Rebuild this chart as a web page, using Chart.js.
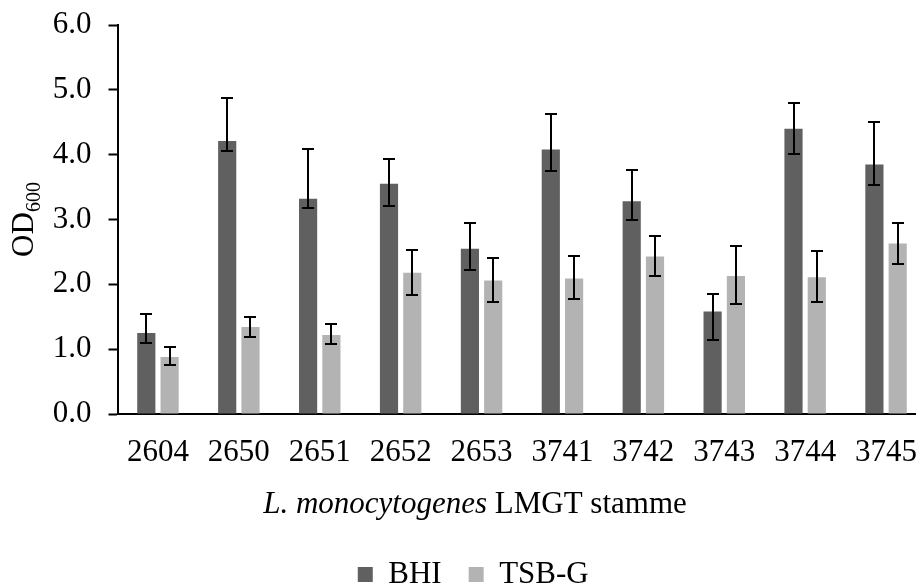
<!DOCTYPE html>
<html>
<head>
<meta charset="utf-8">
<script src="https://cdn.jsdelivr.net/npm/chart.js@4"></script>
<style>
  html, body { margin: 0; padding: 0; background: #fff; overflow: hidden; }
  #wrap { position: relative; width: 964px; height: 600px; }
</style>
</head>
<body>
<div id="wrap"><canvas id="odChart"></canvas></div>
<script>
// OD600 per strain, two growth media (mean with upper/lower error)
const strains = ['2604', '2650', '2651', '2652', '2653', '3741', '3742', '3743', '3744', '3745'];
const bhi = [1.25, 4.21, 3.32, 3.55, 2.55, 4.08, 3.28, 1.58, 4.40, 3.85];
const bhiPlus = [0.30, 0.66, 0.77, 0.38, 0.39, 0.54, 0.48, 0.27, 0.39, 0.66];
const bhiMinus = [0.15, 0.15, 0.15, 0.34, 0.33, 0.33, 0.29, 0.44, 0.39, 0.32];
const tsbg = [0.88, 1.34, 1.22, 2.18, 2.06, 2.09, 2.43, 2.13, 2.11, 2.63];
const tsbgPlus = [0.15, 0.16, 0.17, 0.35, 0.35, 0.34, 0.31, 0.46, 0.41, 0.32];
const tsbgMinus = [0.13, 0.15, 0.14, 0.34, 0.33, 0.31, 0.30, 0.43, 0.39, 0.31];
const yTicks = [0, 1, 2, 3, 4, 5, 6];

const serif = "'Liberation Serif', 'Times New Roman', serif";

// draws the error bars on top of the bars
const errorBars = {
    id: 'errorBars',
    afterDatasetsDraw(chart) {
        const { ctx } = chart;
        const y = chart.scales.y;
        ctx.save();
        ctx.strokeStyle = '#000';
        ctx.lineWidth = 2;
        chart.data.datasets.forEach((ds, di) => {
            const meta = chart.getDatasetMeta(di);
            meta.data.forEach((bar, i) => {
                const top = Math.round(y.getPixelForValue(ds.data[i] + ds.errPlus[i]));
                const bot = Math.round(y.getPixelForValue(ds.data[i] - ds.errMinus[i]));
                const x = Math.round(bar.x);
                ctx.beginPath();
                ctx.moveTo(x, top); ctx.lineTo(x, bot);
                ctx.moveTo(x - 6, top); ctx.lineTo(x + 6, top);
                ctx.moveTo(x - 6, bot); ctx.lineTo(x + 6, bot);
                ctx.stroke();
            });
        });
        ctx.restore();
    }
};

// axis titles with italic species name and subscript
const axisTitles = {
    id: 'axisTitles',
    afterDraw(chart) {
        const { ctx, chartArea } = chart;
        ctx.save();
        ctx.fillStyle = '#000';
        ctx.textBaseline = 'alphabetic';

        // x title
        const part1 = 'L. monocytogenes ';
        const part2 = 'LMGT stamme';
        ctx.font = 'italic 31px ' + serif;
        const w1 = ctx.measureText(part1).width;
        ctx.font = '31px ' + serif;
        const w2 = ctx.measureText(part2).width;
        const x = 475 - (w1 + w2) / 2;
        ctx.font = 'italic 31px ' + serif;
        ctx.fillText(part1, x, 513);
        ctx.font = '31px ' + serif;
        ctx.fillText(part2, x + w1, 513);

        // y title
        ctx.translate(33, (chartArea.top + chartArea.bottom) / 2);
        ctx.rotate(-Math.PI / 2);
        ctx.font = '31px ' + serif;
        const wOD = ctx.measureText('OD').width;
        ctx.font = '20px ' + serif;
        const wSub = ctx.measureText('600').width;
        const start = -(wOD + wSub) / 2;
        ctx.font = '31px ' + serif;
        ctx.fillText('OD', start, 0);
        ctx.font = '20px ' + serif;
        ctx.fillText('600', start + wOD, 7);
        ctx.restore();
    }
};

new Chart(document.getElementById('odChart'), {
    type: 'bar',
    data: {
        labels: strains,
        datasets: [
            {
                label: 'BHI',
                data: bhi,
                errPlus: bhiPlus,
                errMinus: bhiMinus,
                backgroundColor: '#606060',
                categoryPercentage: 0.576,
                barPercentage: 0.78
            },
            {
                label: 'TSB-G',
                data: tsbg,
                errPlus: tsbgPlus,
                errMinus: tsbgMinus,
                backgroundColor: '#b3b3b3',
                categoryPercentage: 0.576,
                barPercentage: 0.78
            }
        ]
    },
    options: {
        responsive: true,
        maintainAspectRatio: false,
        animation: false,
        layout: { padding: { top: 25, right: 37.5, left: 20, bottom: 0 } },
        scales: {
            x: {
                grid: { display: false },
                border: { display: true, color: '#000', width: 2 },
                ticks: {
                    color: '#000',
                    padding: 12,
                    maxRotation: 0,
                    font: { family: serif, size: 31 }
                },
                afterFit(scale) { scale.height = 118; }
            },
            y: {
                min: 0,
                max: 6,
                afterBuildTicks(scale) { scale.ticks = yTicks.map(v => ({ value: v })); },
                grid: {
                    drawOnChartArea: false,
                    drawTicks: true,
                    tickLength: 9,
                    tickWidth: 2,
                    tickColor: '#000'
                },
                border: { display: true, color: '#000', width: 2 },
                ticks: {
                    color: '#000',
                    padding: 17,
                    font: { family: serif, size: 31 },
                    callback: (v) => Number(v).toFixed(1)
                },
                afterFit(scale) {
                    scale.width = 97.5;
                    scale.paddingTop = 0;
                    scale.paddingBottom = 0;
                }
            }
        },
        plugins: {
            legend: {
                position: 'bottom',
                labels: {
                    color: '#000',
                    boxWidth: 15,
                    boxHeight: 15,
                    padding: 27,
                    font: { family: serif, size: 31 }
                }
            },
            tooltip: { enabled: false }
        }
    },
    plugins: [errorBars, axisTitles]
});
</script>
</body>
</html>
